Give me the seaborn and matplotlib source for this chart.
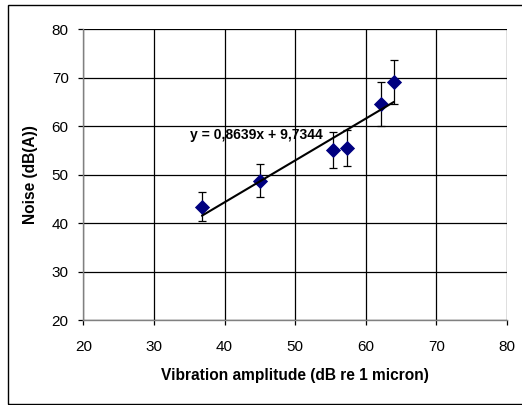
import matplotlib
matplotlib.use("Agg")
import matplotlib.pyplot as plt
import numpy as np
import pandas as pd
import seaborn as sns
from matplotlib.patches import Rectangle

# values
vib = [36.8, 45.0, 55.4, 57.4, 62.2, 64.0]
noise = [43.4, 48.7, 55.1, 55.5, 64.6, 69.1]
err = [3.0, 3.4, 3.8, 3.8, 4.5, 4.6]
slope = 0.8639
intercept = 9.7344
eq_label = "y = 0,8639x + 9,7344"
ticks = [20, 30, 40, 50, 60, 70, 80]

sns.set_theme(style="white")
plt.rcParams['font.family'] = ['Liberation Sans', 'DejaVu Sans']
plt.rcParams['text.color'] = 'black'
plt.rcParams['axes.labelcolor'] = 'black'
plt.rcParams['xtick.color'] = 'black'
plt.rcParams['ytick.color'] = 'black'

fig = plt.figure(figsize=(5.22, 4.05), dpi=100)
ax = fig.add_axes([83.3 / 522, 85 / 405, (507 - 83.3) / 522, (320 - 29.3) / 405])

# outer chart border
fig.patches.append(Rectangle((8 / 522, 1.5 / 405), 1.2, (403.5 - 5) / 405,
                             transform=fig.transFigure, fill=False,
                             edgecolor='black', lw=1.0))

df = pd.DataFrame({'vib': vib, 'noise': noise, 'err': err})
ax.errorbar(df['vib'], df['noise'], yerr=df['err'], fmt='none',
            ecolor='black', elinewidth=0.9, capsize=3, capthick=0.9, zorder=3)
sns.scatterplot(data=df, x='vib', y='noise', marker='D', s=60,
                color='#000080', edgecolor='#000080', linewidth=0, ax=ax, zorder=4)

fit = pd.DataFrame({'x': [min(vib), max(vib)]})
fit['y'] = slope * fit['x'] + intercept
sns.lineplot(data=fit, x='x', y='y', color='black', lw=1.5, ax=ax, zorder=5)

ax.text(44.5, 58.2, eq_label, ha='center', va='center', fontsize=10,
        fontweight='bold', color='black', zorder=6)

ax.set_xlim(20, 80)
ax.set_ylim(20, 80)
ax.set_xticks(ticks)
ax.set_yticks(ticks)
ax.grid(True, color='black', lw=0.9)
ax.set_axisbelow(True)
for side in ['top', 'right']:
    ax.spines[side].set_visible(False)
for side in ['left', 'bottom']:
    ax.spines[side].set_color('#808080')
    ax.spines[side].set_linewidth(1.0)
ax.tick_params(axis='both', direction='out', length=3.5, width=0.9,
               color='black', labelcolor='black', labelsize=11,
               left=True, bottom=True)
ax.tick_params(axis='x', pad=11)
ax.tick_params(axis='y', pad=7)
ax.set_xlabel('Vibration amplitude (dB re 1 micron)', fontsize=11.2,
              fontweight='bold', labelpad=10, color='black')
ax.set_ylabel('Noise (dB(A))', fontsize=11.2, fontweight='bold', labelpad=10,
              color='black')

fig.savefig('out.png', dpi=100)
